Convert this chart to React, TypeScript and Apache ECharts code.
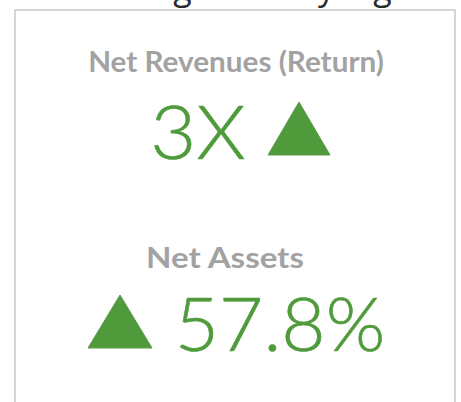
import React, { useEffect, useRef } from "react";
import * as echarts from "echarts";

const metricLabels = ["Net Revenues (Return)", "Net Assets"];
const metricValues = ["3X", "57.8%"];
const cutoffText = "without significantly higher";

const GRAY = "#a2a2a2";
const GREEN = "#4f9b3c";

export default function App() {
  const ref = useRef<HTMLDivElement>(null);
  useEffect(() => {
    document.body.style.margin = "0";
    const chart = echarts.init(ref.current!, null, { renderer: "svg" });
    const labelStyle = { fontSize: 28, fontWeight: "bold", fontFamily: "Lato", fill: GRAY, align: "center", verticalAlign: "middle" };
    const valueStyle = { fontSize: 75, fontWeight: 300, fontFamily: "Lato", fill: GREEN, stroke: GREEN, lineWidth: 0.6, align: "center", verticalAlign: "middle" };
    const elements: any[] = [
      {
        type: "text",
        x: 232,
        y: 4,
        style: { text: cutoffText, fontSize: 34, fontFamily: "Open Sans", fill: "#2a2a2a", align: "center", verticalAlign: "bottom" },
      },
      {
        type: "rect",
        shape: { x: 15, y: 10, width: 440, height: 420 },
        style: { fill: "#fff", stroke: "#c9c9c9", lineWidth: 1.5 },
      },
      {
        type: "text",
        x: 236,
        y: 61,
        scaleX: 1.06,
        style: { ...labelStyle, text: metricLabels[0] },
      },
      {
        type: "text",
        x: 198,
        y: 130,
        scaleX: 1.06,
        style: { ...valueStyle, text: metricValues[0] },
      },
      {
        type: "polygon",
        shape: { points: [[268, 155], [299, 102], [330, 155]] },
        style: { fill: GREEN, stroke: "#5a9a48", lineWidth: 1 },
      },
      {
        type: "text",
        x: 225,
        y: 257,
        scaleX: 1.18,
        style: { ...labelStyle, text: metricLabels[1] },
      },
      {
        type: "polygon",
        shape: { points: [[88, 348], [120, 295], [152, 348]] },
        style: { fill: GREEN, stroke: "#5a9a48", lineWidth: 1 },
      },
      {
        type: "text",
        x: 280,
        y: 322,
        scaleX: 1.02,
        style: { ...valueStyle, text: metricValues[1] },
      },
    ];
    chart.setOption({ animation: false, graphic: { elements } });
    return () => chart.dispose();
  }, []);
  return <div ref={ref} style={{ position: "fixed", left: 0, top: 0, width: 461, height: 402, background: "#fff" }} />;
}
